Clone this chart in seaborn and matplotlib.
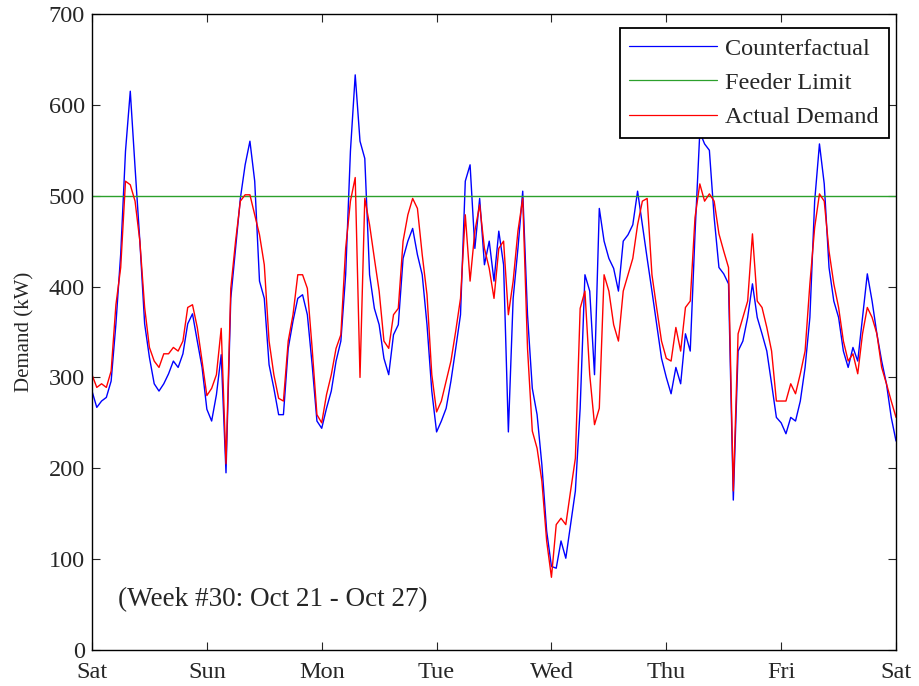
#!/usr/bin/env python3
"""Week #30 feeder demand: counterfactual vs actual against feeder limit."""
import matplotlib
matplotlib.use("Agg")
import matplotlib.pyplot as plt
import numpy as np
import pandas as pd
import seaborn as sns

# hourly readings, Sat 00:00 .. next Sat 00:00 (169 points), kW
counterfactual = [
    # Sat
    285, 267, 274, 278, 296, 359, 436, 549, 615, 531, 450, 359,
    322, 293, 285, 293, 304, 318, 311, 326, 359, 370, 340, 311,
    # Sun
    265, 252, 281, 325, 195, 387, 442, 497, 534, 560, 516, 406,
    387, 314, 288, 259, 259, 332, 362, 387, 391, 369, 314, 252,
    # Mon
    244, 266, 285, 318, 340, 413, 549, 633, 560, 541, 413, 376,
    358, 321, 303, 347, 358, 431, 450, 464, 435, 413, 358, 285,
    # Tue
    240, 252, 266, 296, 332, 369, 516, 534, 442, 497, 424, 450,
    406, 461, 424, 240, 387, 442, 505, 369, 288, 259, 204, 131,
    # Wed
    92, 90, 120, 101, 138, 175, 266, 413, 395, 303, 486, 450,
    431, 420, 395, 450, 457, 468, 505, 468, 431, 395, 358, 321,
    # Thu
    300, 282, 311, 293, 348, 329, 458, 570, 557, 550, 476, 421,
    414, 403, 165, 329, 340, 366, 403, 366, 348, 329, 293, 256,
    # Fri
    250, 238, 256, 252, 274, 311, 366, 494, 557, 513, 421, 384,
    366, 329, 311, 333, 318, 366, 414, 384, 348, 318, 293, 256,
    # Sat
    230,
]
actual = [
    # Sat
    303, 289, 293, 289, 307, 380, 421, 516, 512, 494, 450, 377,
    333, 318, 311, 326, 326, 333, 329, 340, 377, 380, 355, 318,
    # Sun
    280, 288, 303, 354, 205, 398, 450, 494, 501, 501, 479, 457,
    424, 340, 303, 277, 274, 340, 369, 413, 413, 398, 332, 259,
    # Mon
    250, 281, 303, 332, 347, 442, 494, 520, 300, 497, 468, 431,
    395, 340, 332, 369, 376, 450, 479, 497, 486, 435, 391, 303,
    # Tue
    262, 274, 296, 318, 351, 387, 479, 406, 461, 490, 442, 420,
    387, 442, 450, 369, 406, 461, 497, 332, 241, 222, 186, 120,
    # Wed
    80, 138, 145, 138, 175, 211, 376, 395, 303, 248, 266, 413,
    395, 358, 340, 395, 413, 431, 468, 494, 497, 413, 376, 340,
    # Thu
    321, 318, 355, 329, 377, 384, 476, 513, 494, 502, 494, 458,
    439, 421, 175, 348, 366, 384, 458, 384, 377, 355, 329, 274,
    # Fri
    274, 274, 293, 282, 304, 329, 403, 465, 502, 494, 439, 403,
    377, 340, 318, 326, 304, 348, 377, 366, 348, 311, 293, 274,
    # Sat
    256,
]
limit_hours = [0, 168]
limit_kw = [500, 500]

day_ticks = [0, 24, 48, 72, 96, 120, 144, 168]
day_labels = ["Sat", "Sun", "Mon", "Tue", "Wed", "Thu", "Fri", "Sat"]

hours = np.arange(len(counterfactual))
df = pd.concat([
    pd.DataFrame({"hour": hours, "kw": counterfactual, "series": "Counterfactual"}),
    pd.DataFrame({"hour": limit_hours, "kw": limit_kw, "series": "Feeder Limit"}),
    pd.DataFrame({"hour": hours, "kw": actual, "series": "Actual Demand"}),
], ignore_index=True)

sns.set_style("ticks")
plt.rcParams["font.family"] = ["Liberation Serif", "DejaVu Serif"]

fig = plt.figure(figsize=(9.19, 6.86), dpi=100)
ax = fig.add_axes([0.1001, 0.0525, 0.8749, 0.9271])

palette = {"Counterfactual": "#0000ff", "Feeder Limit": "#2ca02c",
           "Actual Demand": "#ff0000"}
sns.lineplot(data=df, x="hour", y="kw", hue="series", palette=palette,
             hue_order=["Counterfactual", "Feeder Limit", "Actual Demand"],
             linewidth=1.0, ax=ax, estimator=None, sort=False)

ax.set_xlim(0, 168)
ax.set_ylim(0, 700)
ax.set_xticks(day_ticks)
ax.set_xticklabels(day_labels)
ax.set_yticks(range(0, 701, 100))
ax.set_xlabel("")
ax.set_ylabel("Demand (kW)", fontsize=15, labelpad=10)
ax.tick_params(direction="in", top=True, right=True, labelsize=17.5,
               length=6, width=0.8)
ax.tick_params(axis="x", pad=9)
ax.tick_params(axis="y", pad=5)
for s in ax.spines.values():
    s.set_linewidth(1.0)
    s.set_color("black")

leg = ax.legend(loc="upper right", bbox_to_anchor=(0.991, 0.978),
                borderaxespad=0, fontsize=17.5, handlelength=3.6,
                frameon=True, fancybox=False, framealpha=1,
                edgecolor="black", labelspacing=0.5,
                borderpad=0.4, handletextpad=0.35)
leg.get_frame().set_linewidth(1.3)
for line in leg.get_lines():
    line.set_linewidth(0.9)

ax.text(0.032, 0.079, "(Week #30: Oct 21 - Oct 27)", transform=ax.transAxes,
        fontsize=19.5, va="center", ha="left")

fig.savefig("out.png", dpi=100)
